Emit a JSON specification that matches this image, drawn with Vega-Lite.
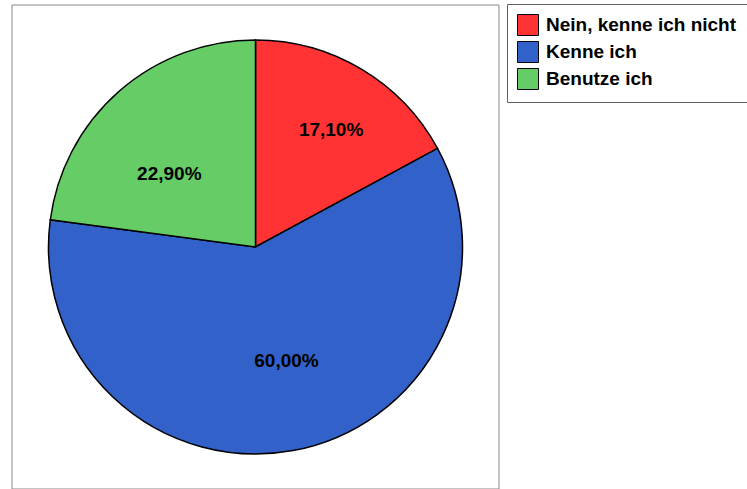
{
  "$schema": "https://vega.github.io/schema/vega-lite/v6.json",
  "width": 487,
  "height": 484,
  "autosize": {"type": "none"},
  "padding": {"left": 12, "top": 5, "right": 248, "bottom": 0},
  "background": "white",
  "config": {
    "view": {"stroke": null},
    "font": "Liberation Sans"
  },
  "data": {
    "values": [
      {"idx": 1, "category": "Nein, kenne ich nicht", "value": 17.1, "label": "17,10%"},
      {"idx": 2, "category": "Kenne ich", "value": 60.0, "label": "60,00%"},
      {"idx": 3, "category": "Benutze ich", "value": 22.9, "label": "22,90%"}
    ]
  },
  "layer": [
    {
      "data": {"values": [{"frame": 1}]},
      "mark": {"type": "rect", "fill": "white", "stroke": "#888888", "strokeWidth": 1, "y2Offset": 5},
      "encoding": {}
    },
    {
      "mark": {"type": "arc", "outerRadius": 207, "stroke": "black", "strokeWidth": 1.5},
      "encoding": {
        "theta": {"field": "value", "type": "quantitative", "stack": true},
        "order": {"field": "idx", "type": "quantitative"},
        "color": {
          "field": "category",
          "type": "nominal",
          "sort": ["Nein, kenne ich nicht", "Kenne ich", "Benutze ich"],
          "scale": {
            "domain": ["Nein, kenne ich nicht", "Kenne ich", "Benutze ich"],
            "range": ["#FF3333", "#3262C9", "#66CC66"]
          },
          "legend": {
            "title": null,
            "orient": "none",
            "legendX": 495,
            "legendY": -1,
            "direction": "vertical",
            "padding": 10,
            "strokeColor": "#606060",
            "fillColor": "white",
            "symbolType": "square",
            "symbolSize": 441,
            "symbolStrokeColor": "black",
            "symbolStrokeWidth": 1,
            "symbolOpacity": 1,
            "labelFont": "Liberation Sans",
            "labelFontSize": 19,
            "labelFontWeight": "bold",
            "labelColor": "black",
            "labelOffset": 7,
            "labelLimit": 400,
            "rowPadding": 1
          }
        }
      }
    },
    {
      "mark": {"type": "text", "radius": 136, "dx": 6, "fontSize": 19, "fontWeight": "bold", "font": "Liberation Sans", "color": "black", "align": "center", "baseline": "middle"},
      "encoding": {
        "theta": {"field": "value", "type": "quantitative", "stack": true},
        "order": {"field": "idx", "type": "quantitative"},
        "text": {"condition": {"test": "datum.idx === 1", "field": "label"}, "value": ""}
      }
    },
    {
      "mark": {"type": "text", "radius": 116, "dx": 10, "fontSize": 19, "fontWeight": "bold", "font": "Liberation Sans", "color": "black", "align": "center", "baseline": "middle"},
      "encoding": {
        "theta": {"field": "value", "type": "quantitative", "stack": true},
        "order": {"field": "idx", "type": "quantitative"},
        "text": {"condition": {"test": "datum.idx === 2", "field": "label"}, "value": ""}
      }
    },
    {
      "mark": {"type": "text", "radius": 105, "dx": -17, "dy": 6, "fontSize": 19, "fontWeight": "bold", "font": "Liberation Sans", "color": "black", "align": "center", "baseline": "middle"},
      "encoding": {
        "theta": {"field": "value", "type": "quantitative", "stack": true},
        "order": {"field": "idx", "type": "quantitative"},
        "text": {"condition": {"test": "datum.idx === 3", "field": "label"}, "value": ""}
      }
    }
  ]
}
